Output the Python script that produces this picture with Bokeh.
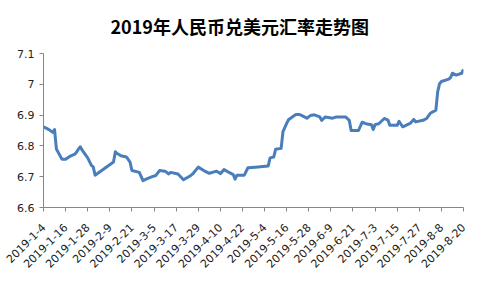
import math
import pandas as pd
from bokeh.plotting import figure
from bokeh.models import Range1d, FixedTicker, Title, ColumnDataSource
from bokeh.embed import file_html
from bokeh.resources import INLINE

title_text = "2019年人民币兑美元汇率走势图"

dates = [
    "2019-01-04", "2019-01-07", "2019-01-09", "2019-01-10", "2019-01-11", "2019-01-14",
    "2019-01-16", "2019-01-17", "2019-01-18", "2019-01-21", "2019-01-22", "2019-01-23",
    "2019-01-24", "2019-01-25", "2019-01-28", "2019-01-30", "2019-01-31", "2019-02-01",
    "2019-02-11", "2019-02-12", "2019-02-13", "2019-02-14", "2019-02-15", "2019-02-18",
    "2019-02-20", "2019-02-21", "2019-02-25", "2019-02-27", "2019-03-01", "2019-03-04",
    "2019-03-06", "2019-03-08", "2019-03-11", "2019-03-13", "2019-03-14", "2019-03-18",
    "2019-03-21", "2019-03-25", "2019-03-26", "2019-03-29", "2019-04-01", "2019-04-04",
    "2019-04-08", "2019-04-10", "2019-04-12", "2019-04-15", "2019-04-17", "2019-04-18",
    "2019-04-19", "2019-04-23", "2019-04-25", "2019-04-29", "2019-05-06", "2019-05-07",
    "2019-05-09", "2019-05-10", "2019-05-13", "2019-05-14", "2019-05-16", "2019-05-17",
    "2019-05-20", "2019-05-21", "2019-05-23", "2019-05-24", "2019-05-27", "2019-05-29",
    "2019-05-31", "2019-06-03", "2019-06-04", "2019-06-06", "2019-06-10", "2019-06-12",
    "2019-06-17", "2019-06-19", "2019-06-20", "2019-06-24", "2019-06-26", "2019-06-28",
    "2019-07-01", "2019-07-02", "2019-07-03", "2019-07-05", "2019-07-08", "2019-07-10",
    "2019-07-11", "2019-07-15", "2019-07-16", "2019-07-18", "2019-07-22", "2019-07-24",
    "2019-07-25", "2019-07-29", "2019-07-31", "2019-08-02", "2019-08-05", "2019-08-06",
    "2019-08-07", "2019-08-08", "2019-08-12", "2019-08-13", "2019-08-14", "2019-08-16",
    "2019-08-19", "2019-08-20",
]
rates = [
    6.862, 6.853, 6.844, 6.853, 6.790, 6.757,
    6.757, 6.761, 6.765, 6.773, 6.780, 6.790,
    6.797, 6.786, 6.761, 6.737, 6.732, 6.705,
    6.748, 6.781, 6.775, 6.772, 6.768, 6.764,
    6.747, 6.720, 6.714, 6.687, 6.693, 6.700,
    6.704, 6.720, 6.718, 6.709, 6.714, 6.709,
    6.690, 6.704, 6.709, 6.731, 6.720, 6.711,
    6.718, 6.710, 6.723, 6.713, 6.707, 6.692,
    6.705, 6.705, 6.729, 6.731, 6.735, 6.761,
    6.764, 6.789, 6.792, 6.846, 6.873, 6.885,
    6.898, 6.902, 6.902, 6.899, 6.890, 6.899,
    6.901, 6.894, 6.883, 6.894, 6.890, 6.894,
    6.894, 6.883, 6.850, 6.850, 6.877, 6.872,
    6.869, 6.853, 6.869, 6.872, 6.889, 6.884,
    6.867, 6.867, 6.880, 6.862, 6.873, 6.886,
    6.878, 6.883, 6.889, 6.906, 6.916, 6.976,
    7.002, 7.009, 7.017, 7.022, 7.036, 7.030,
    7.036, 7.048,
]

x_tick_labels = [
    "2019-1-4", "2019-1-16", "2019-1-28", "2019-2-9", "2019-2-21", "2019-3-5",
    "2019-3-17", "2019-3-29", "2019-4-10", "2019-4-22", "2019-5-4", "2019-5-16",
    "2019-5-28", "2019-6-9", "2019-6-21", "2019-7-3", "2019-7-15", "2019-7-27",
    "2019-8-8", "2019-8-20",
]
y_ticks = [6.6, 6.7, 6.8, 6.9, 7.0, 7.1]
y_tick_labels = ["6.6", "6.7", "6.8", "6.9", "7", "7.1"]

start = pd.Timestamp("2019-01-04")
days = [(pd.Timestamp(d) - start).days for d in dates]
x_ticks = [(pd.Timestamp(s) - start).days for s in x_tick_labels]

src = ColumnDataSource(data=dict(x=days, y=rates))

p = figure(
    width=484, height=291, output_backend="svg", toolbar_location=None,
    x_range=Range1d(x_ticks[0], x_ticks[-1]), y_range=Range1d(y_ticks[0], y_ticks[-1]),
    min_border_left=43, min_border_right=21, min_border_bottom=84, min_border_top=0,
)
p.add_layout(Title(text=title_text, align="left", vertical_align="top",
                   text_font_size="18px",
                   text_font="Noto Sans CJK SC", text_font_style="bold",
                   text_color="#000000", offset=67, standoff=25), "above")
p.outline_line_color = None
p.xgrid.visible = False
p.ygrid.visible = False
p.background_fill_color = "white"
p.border_fill_color = "white"

p.line("x", "y", source=src, line_color="#4a7ebb", line_width=3, line_join="round")

axis_color = "#868686"
for ax in (p.xaxis[0], p.yaxis[0]):
    ax.axis_line_color = axis_color
    ax.major_tick_line_color = axis_color
    ax.minor_tick_line_color = None
    ax.major_tick_in = 0
    ax.major_tick_out = 4
    ax.major_label_text_font = "DejaVu Sans"
    ax.major_label_text_font_size = "11px"
    ax.major_label_text_color = "#222222"

p.xaxis[0].ticker = FixedTicker(ticks=x_ticks)
p.xaxis[0].major_label_overrides = {t: s for t, s in zip(x_ticks, x_tick_labels)}
p.xaxis[0].major_label_orientation = math.pi / 4
p.xaxis[0].major_label_standoff = 14

p.yaxis[0].ticker = FixedTicker(ticks=y_ticks)
p.yaxis[0].major_label_overrides = {t: s for t, s in zip(y_ticks, y_tick_labels)}
p.yaxis[0].major_label_standoff = 5

open("out.html", "w").write(file_html(p, INLINE))
